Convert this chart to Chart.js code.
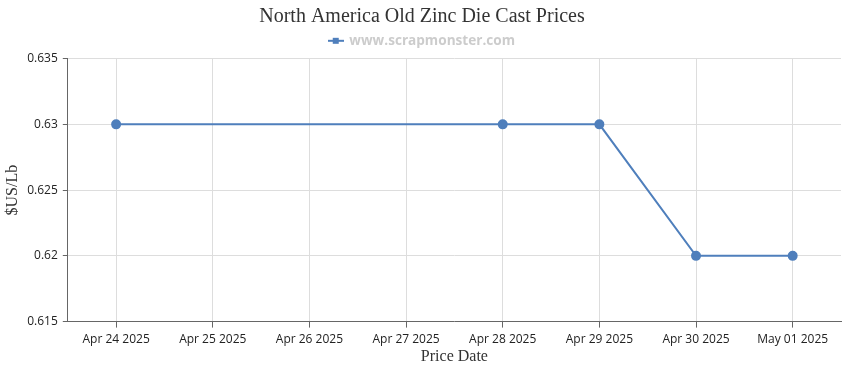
<!DOCTYPE html>
<html>
<head>
<meta charset="utf-8">
<script src="https://cdn.jsdelivr.net/npm/chart.js@4/dist/chart.umd.min.js"></script>
<style>
  html, body { margin: 0; padding: 0; background: #fff; }
  #wrap { width: 850px; height: 370px; }
</style>
</head>
<body>
<div id="wrap"><canvas id="priceChart"></canvas></div>
<script>
const priceDates = ['Apr 24 2025', 'Apr 25 2025', 'Apr 26 2025', 'Apr 27 2025', 'Apr 28 2025', 'Apr 29 2025', 'Apr 30 2025', 'May 01 2025'];
const prices = [0.63, null, null, null, 0.63, 0.63, 0.62, 0.62];
const yTicks = [0.615, 0.62, 0.625, 0.63, 0.635];

const lineColor = '#4f7fbc';

function legendSymbol() {
    const c = document.createElement('canvas');
    c.width = 16; c.height = 8;
    const g = c.getContext('2d');
    g.strokeStyle = lineColor;
    g.lineWidth = 2;
    g.beginPath(); g.moveTo(0, 4); g.lineTo(16, 4); g.stroke();
    g.fillStyle = lineColor;
    g.fillRect(5, 1, 6, 6);
    return c;
}

// a bit more room under the legend, like the original
const legendGap = {
    id: 'legendGap',
    beforeInit(chart) {
        const fit = chart.legend.fit;
        chart.legend.fit = function () {
            fit.bind(this)();
            this.height += 1;
        };
    }
};

function createPriceChart() {
    const ctx = document.getElementById('priceChart');
    if (!ctx) return;

    new Chart(ctx, {
        type: 'line',
        data: {
            labels: priceDates,
            datasets: [{
                label: 'www.scrapmonster.com',
                data: prices,
                borderColor: lineColor,
                backgroundColor: lineColor,
                borderWidth: 2,
                pointRadius: 4,
                pointHoverRadius: 5,
                spanGaps: true,
                tension: 0
            }]
        },
        plugins: [legendGap],
        options: {
            responsive: true,
            maintainAspectRatio: false,
            animation: false,
            layout: { padding: { left: 3, right: 9, top: 0, bottom: 2 } },
            plugins: {
                title: {
                    display: true,
                    text: 'North America Old Zinc Die Cast Prices',
                    color: '#333333',
                    font: { family: "'Liberation Serif', serif", size: 20, weight: 'normal' },
                    padding: { top: 5, bottom: 0 }
                },
                legend: {
                    position: 'top',
                    labels: {
                        color: '#cccccc',
                        font: { family: "'Open Sans', sans-serif", size: 13.6, weight: 'bold' },
                        usePointStyle: true,
                        pointStyle: legendSymbol(),
                        padding: 5
                    }
                },
                tooltip: { enabled: true }
            },
            scales: {
                x: {
                    offset: true,
                    grid: {
                        color: '#dddddd',
                        tickColor: '#666666',
                        tickLength: 6,
                        offset: false
                    },
                    border: { color: '#666666', width: 1 },
                    ticks: {
                        color: '#222222',
                        font: { family: "'Open Sans', sans-serif", size: 12 },
                        maxRotation: 0,
                        autoSkip: false,
                        padding: 5
                    },
                    title: {
                        display: true,
                        text: 'Price Date',
                        color: '#333333',
                        font: { family: "'Liberation Serif', serif", size: 16, lineHeight: 1 },
                        padding: { top: -3, bottom: 3 }
                    }
                },
                y: {
                    min: 0.615,
                    max: 0.635,
                    afterBuildTicks: axis => {
                        axis.ticks = yTicks.map(v => ({ value: v }));
                    },
                    grid: {
                        color: '#dddddd',
                        tickColor: '#666666',
                        tickLength: 5
                    },
                    border: { color: '#666666', width: 1 },
                    ticks: {
                        color: '#222222',
                        font: { family: "'Open Sans', sans-serif", size: 12 },
                        padding: 5,
                        callback: v => String(Number(v.toFixed(3)))
                    },
                    title: {
                        display: true,
                        text: '$US/Lb',
                        color: '#333333',
                        font: { family: "'Liberation Serif', serif", size: 16 },
                        padding: { top: 0, bottom: 0 }
                    }
                }
            }
        }
    });
}

document.addEventListener('DOMContentLoaded', () => {
    createPriceChart();
});
</script>
</body>
</html>
